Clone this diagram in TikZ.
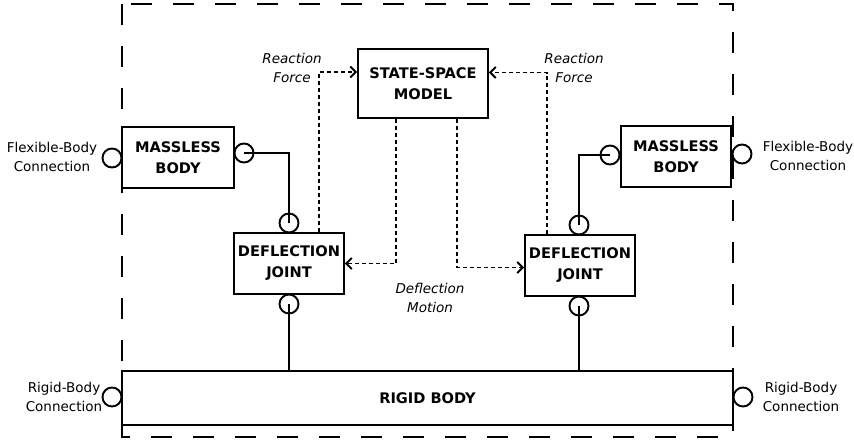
\documentclass[tikz,border=0pt]{standalone}
\usepackage{fontspec}
\setmainfont{DejaVu Sans}
\usetikzlibrary{arrows.meta,calc}
\begin{document}
\begin{tikzpicture}[x=1pt,y=-1pt,
  blk/.style={draw,line width=1.9pt,align=center,inner sep=0pt,
    font=\fontsize{14.6}{21}\selectfont\bfseries},
  port/.style={draw,circle,line width=1.9pt,minimum size=19pt,inner sep=0pt},
  wire/.style={line width=1.9pt},
  sig/.style={line width=1.9pt,dash pattern=on 4pt off 3pt,
    -{Straight Barb[length=5.5pt,width=11pt,line width=1.9pt]}},
  lbl/.style={align=center,font=\fontsize{13.5}{19.5}\selectfont},
  ilbl/.style={align=center,font=\fontsize{13.5}{19.5}\selectfont\itshape}]
\useasboundingbox (0,0) rectangle (854,442);
\draw[line width=1.9pt,dash pattern=on 21pt off 21pt] (122,4) rectangle (733,437);

\node[blk,minimum width=130pt,minimum height=69pt] (SS) at (423,83.5) {STATE-SPACE\\MODEL};
\node[blk,minimum width=112pt,minimum height=61pt] (LMB) at (178,157.5) {MASSLESS\\BODY};
\node[blk,minimum width=110pt,minimum height=61pt] (LDJ) at (289,263.5) {DEFLECTION\\JOINT};
\node[blk,minimum width=110pt,minimum height=61pt] (RDJ) at (580,265.5) {DEFLECTION\\JOINT};
\node[blk,minimum width=110pt,minimum height=61pt] (RMB) at (676,156.5) {MASSLESS\\BODY};
\node[blk,minimum width=611pt,minimum height=54pt] (RB) at (427.5,398) {RIGID BODY};

\node[port] (pL1) at (112,158) {};
\node[port] (pL2) at (244,153) {};
\node[port] (pL3) at (289,223) {};
\node[port] (pL4) at (289,304) {};
\node[port] (pR1) at (742,154) {};
\node[port] (pR2) at (610,155) {};
\node[port] (pR3) at (579,225) {};
\node[port] (pR4) at (579,306) {};
\node[port] (pB1) at (112,397) {};
\node[port] (pB2) at (743,397) {};

\draw[wire] (pL2.center) -| (pL3.center);
\draw[wire] (pL4.center) -- (pL4.center |- RB.north);
\draw[wire] (pR3.center) |- (pR2.center);
\draw[wire] (pR4.center) -- (pR4.center |- RB.north);

\draw[sig] ($(LDJ.north west)+(86,0)$) |- ($(SS.west)+(0,-11.5)$);
\draw[sig] ($(RDJ.north west)+(23,0)$) |- ($(SS.east)+(0,-11)$);
\draw[sig] ($(SS.south west)+(39,0)$) |- (LDJ.east);
\draw[sig] ($(SS.south west)+(100,0)$) |- ($(RDJ.west)+(0,2)$);

\node[lbl] (fl) at (52,157) {Flexible-Body\\Connection};
\node[lbl] (fr) at (808,156) {Flexible-Body\\Connection};
\node[lbl] (rl) at (64,397) {Rigid-Body\\Connection};
\node[lbl] (rr) at (801,397) {Rigid-Body\\Connection};
\node[ilbl] (ral) at (292,68) {Reaction\\Force};
\node[ilbl] (rar) at (574,68) {Reaction\\Force};
\node[ilbl] (dm) at (430,298) {Deflection\\Motion};
\end{tikzpicture}
\end{document}
